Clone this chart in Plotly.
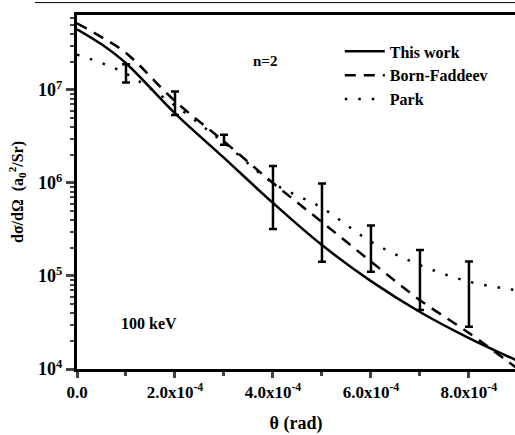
import plotly.graph_objects as go

# ---- data ----
theta = [0.0, 0.5e-4, 1e-4, 2e-4, 3e-4, 4e-4, 5e-4, 6e-4, 7e-4, 8e-4, 9e-4]
this_work = [4.5e7, 3.1e7, 1.94e7, 5.6e6, 1.86e6, 6.1e5, 2.15e5, 8.8e4, 4.1e4, 2.15e4, 1.22e4]
born_faddeev = [5.2e7, 3.7e7, 2.5e7, 7.6e6, 2.8e6, 1.0e6, 3.8e5, 1.43e5, 5.5e4, 2.44e4, 1.0e4]
park = [2.4e7, 1.95e7, 1.5e7, 6.8e6, 2.7e6, 1.0e6, 5.4e5, 2.34e5, 1.31e5, 8.7e4, 7.0e4]

exp_theta = [1e-4, 2e-4, 3e-4, 4e-4, 5e-4, 6e-4, 7e-4, 8e-4]
exp_upper = [1.89e7, 9.6e6, 3.3e6, 1.52e6, 9.9e5, 3.5e5, 1.9e5, 1.43e5]
exp_lower = [1.2e7, 5.38e6, 2.57e6, 3.2e5, 1.42e5, 1.11e5, 4.3e4, 2.85e4]

x_tickvals = [0.0, 2e-4, 4e-4, 6e-4, 8e-4]
x_ticktext = ["0.0", "2.0x10<sup>-4</sup>", "4.0x10<sup>-4</sup>",
              "6.0x10<sup>-4</sup>", "8.0x10<sup>-4</sup>"]
y_tickvals = [1e4, 1e5, 1e6, 1e7]
y_ticktext = ["10<sup>4</sup>", "10<sup>5</sup>", "10<sup>6</sup>", "10<sup>7</sup>"]

FONT = "Liberation Serif"

# geometric centres for error bars
exp_mid = [(u * l) ** 0.5 for u, l in zip(exp_upper, exp_lower)]
err_plus = [u - m for u, m in zip(exp_upper, exp_mid)]
err_minus = [m - l for m, l in zip(exp_mid, exp_lower)]

fig = go.Figure()
fig.add_trace(go.Scatter(x=theta, y=this_work, mode="lines", name="This work",
                         line=dict(color="black", width=2.5, shape="spline")))
fig.add_trace(go.Scatter(x=theta, y=born_faddeev, mode="lines", name="Born-Faddeev",
                         line=dict(color="black", width=2.5, dash="11px,8px", shape="spline")))
fig.add_trace(go.Scatter(x=theta, y=park, mode="lines", name="Park",
                         line=dict(color="black", width=2.5, dash="2.5px,11px", shape="spline")))
fig.add_trace(go.Scatter(x=exp_theta, y=exp_mid, mode="markers", showlegend=False,
                         marker=dict(size=1, color="rgba(0,0,0,0)"),
                         error_y=dict(type="data", symmetric=False, array=err_plus,
                                      arrayminus=err_minus, color="black",
                                      thickness=2.5, width=4)))

fig.update_layout(
    width=515, height=435,
    margin=dict(l=77, r=0, t=15, b=66),
    paper_bgcolor="white", plot_bgcolor="white",
    font=dict(family=FONT, color="black", size=16, weight="bold"),
    showlegend=True,
    legend=dict(x=0.60, y=0.945, xanchor="left", yanchor="top",
                bgcolor="rgba(0,0,0,0)", itemwidth=40, tracegroupgap=0,
                font=dict(family=FONT, size=16, weight="bold")),
    xaxis=dict(range=[0, 8.94e-4], showline=True, linewidth=3, linecolor="black",
               mirror=True, ticks="outside", ticklen=6, tickwidth=2.5,
               tickvals=x_tickvals, ticktext=x_ticktext, showgrid=False, zeroline=False,
               tickfont=dict(family=FONT, size=17, weight="bold"),
               minor=dict(dtick=1e-4, tick0=0, ticks="outside", ticklen=4, tickwidth=2.5,
                          showgrid=False),
               title=dict(text="θ (rad)", standoff=15,
                          font=dict(family=FONT, size=18, weight="bold"))),
    yaxis=dict(type="log", range=[4, 7.806], showline=True, linewidth=3, linecolor="black",
               mirror=False, ticks="outside", ticklen=8, tickwidth=2.5,
               tickvals=y_tickvals, ticktext=y_ticktext, showgrid=False, zeroline=False,
               tickfont=dict(family=FONT, size=18, weight="bold"),
               minor=dict(dtick="D1", ticks="outside", ticklen=4, tickwidth=2, showgrid=False),
               title=dict(text="dσ/dΩ  (a<sub>0</sub><sup>2</sup>/Sr)", standoff=11,
                          font=dict(family=FONT, size=16, weight="bold"))),
    annotations=[
        dict(text="n=2", x=0.43, y=0.899, xref="paper", yref="paper",
             showarrow=False, font=dict(family=FONT, size=15, weight="bold")),
        dict(text="100 keV", x=0.096, y=0.099, xref="paper", yref="paper",
             showarrow=False, font=dict(family=FONT, size=16, weight="bold")),
    ],
    shapes=[dict(type="line", xref="paper", yref="paper", x0=-0.096, x1=1.0,
                 y0=1.035, y1=1.035, line=dict(color="black", width=1))],
)

fig.write_html("out.html", config={"displayModeBar": False},
               post_script="document.body.style.margin='0px';document.body.style.overflow='hidden';")
